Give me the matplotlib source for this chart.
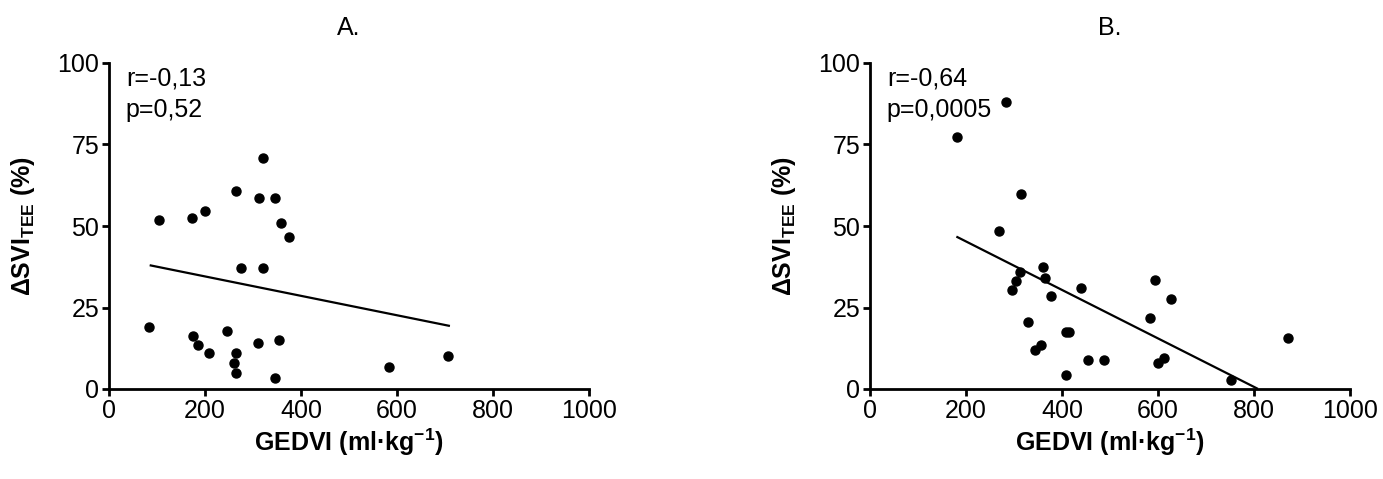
import numpy as np
import matplotlib
matplotlib.use("Agg")
import matplotlib.pyplot as plt

plt.rcParams['font.family'] = ['Liberation Sans', 'DejaVu Sans']
plt.rcParams['mathtext.fontset'] = 'custom'
plt.rcParams['mathtext.rm'] = 'Liberation Sans'
plt.rcParams['mathtext.it'] = 'Liberation Sans:italic'
plt.rcParams['mathtext.bf'] = 'Liberation Sans:bold'

# panel A data (GEDVI, dSVI)
xa = [104, 172, 199, 265, 320, 312, 346, 358, 374, 274, 320,
      84, 174, 185, 208, 246, 265, 261, 265, 310, 354, 345, 584, 707]
ya = [51.9, 52.4, 54.6, 60.6, 70.9, 58.6, 58.6, 50.9, 46.6, 37.1, 37.1,
      19.0, 16.2, 13.4, 11.0, 17.7, 11.1, 7.9, 4.8, 14.0, 15.0, 3.5, 6.7, 10.1]
fit_xa = [87, 708]
fit_ya = [37.9, 19.4]

# panel B data
xb = [283, 181, 315, 269, 360, 313, 365, 304, 296, 377, 439, 594, 628,
      584, 329, 408, 415, 356, 343, 455, 488, 409, 599, 613, 752, 870]
yb = [88.1, 77.3, 59.7, 48.5, 37.5, 36.0, 33.9, 33.2, 30.3, 28.5, 31.1, 33.4, 27.5,
      21.9, 20.5, 17.6, 17.6, 13.5, 11.9, 8.8, 8.8, 4.3, 7.9, 9.4, 2.8, 15.5]
fit_xb = [182, 806]
fit_yb = [46.6, 0.2]

panels = [
    ("A.", xa, ya, fit_xa, fit_ya, "r=-0,13\np=0,52"),
    ("B.", xb, yb, fit_xb, fit_yb, "r=-0,64\np=0,0005"),
]

fig = plt.figure(figsize=(13.83, 4.79), dpi=100)
lefts = [109 / 1383, 870 / 1383]
w = 480 / 1383
bot = 90 / 479
h = 326 / 479

for i, (title, x, y, fx, fy, txt) in enumerate(panels):
    ax = fig.add_axes([lefts[i], bot, w, h])
    ax.plot(x, y, 'o', color='black', markersize=6.5, clip_on=False)
    ax.plot(fx, fy, '-', color='black', linewidth=1.6)
    ax.set_xlim(0, 1000)
    ax.set_ylim(0, 100)
    ax.set_xticks([0, 200, 400, 600, 800, 1000])
    ax.set_yticks([0, 25, 50, 75, 100])
    for s in ['top', 'right']:
        ax.spines[s].set_visible(False)
    for s in ['left', 'bottom']:
        ax.spines[s].set_linewidth(2)
    ax.tick_params(width=2, length=5, labelsize=18, pad=2)
    ax.set_title(title, fontsize=18, pad=20)
    ax.set_xlabel(r'GEDVI (ml·kg$^{\mathbf{-1}}$)', fontsize=18, fontweight='bold', labelpad=3)
    ax.set_ylabel(r'$\mathbf{\Delta SVI_{TEE}}$ (%)', fontsize=18, fontweight='bold', labelpad=15)
    ax.text(0.035, 0.99, txt, transform=ax.transAxes, fontsize=18,
            va='top', ha='left', linespacing=1.4)

fig.savefig("out.png", dpi=100)
